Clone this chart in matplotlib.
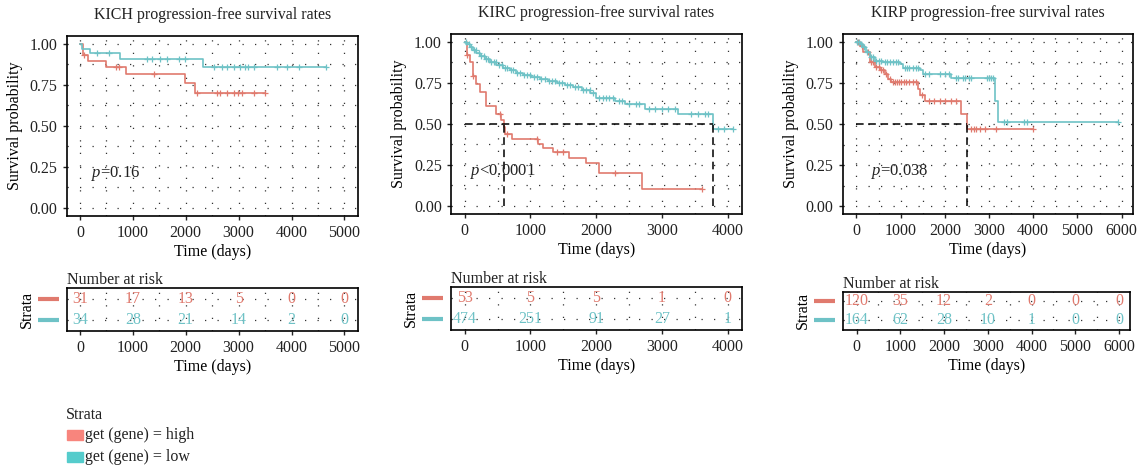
import numpy as np
import matplotlib
matplotlib.use("Agg")
import matplotlib.pyplot as plt
from matplotlib.patches import Rectangle

plt.rcParams.update({
    "font.family": ["Liberation Serif", "DejaVu Serif"],
    "font.size": 11.5,
    "mathtext.fontset": "custom",
    "mathtext.rm": "Liberation Serif",
    "mathtext.it": "Liberation Serif:italic",
    "axes.linewidth": 1.2,
    "xtick.major.size": 3,
    "ytick.major.size": 3,
    "xtick.major.width": 1.0,
    "ytick.major.width": 1.0,
    "text.color": "#222222",
    "xtick.color": "#222222",
    "ytick.color": "#222222",
})

RED = "#E07A6E"
CYAN = "#6EC2C6"
RED_PATCH = "#F8857D"
CYAN_PATCH = "#55CCCC"
W, H = 1143, 468

# ---------------- KICH ----------------
kich_red_t = [0, 57, 151, 484, 880, 1981, 2170]
kich_red_s = [1.00, 0.935, 0.896, 0.861, 0.815, 0.758, 0.697]
kich_red_end = 3503
kich_red_cens = [75, 673, 736, 1396, 2214, 2591, 2654, 2780, 2906, 2981, 3063, 3283, 3503]
kich_cyan_t = [0, 44, 182, 755, 2321]
kich_cyan_s = [1.00, 0.969, 0.945, 0.908, 0.861]
kich_cyan_end = 4655
kich_cyan_cens = [327, 547, 1270, 1365, 1510, 1648, 1868, 1994, 2529, 2686, 2780,
                  2906, 3019, 3126, 3170, 3283, 3724, 3912, 4132, 4655]
kich_risk_x = [0, 1000, 2000, 3000, 4000, 5000]
kich_risk_red = [31, 17, 13, 5, 0, 0]
kich_risk_cyan = [34, 28, 21, 14, 2, 0]

# ---------------- KIRC ----------------
kirc_red_t = [0, 36, 76, 127, 178, 228, 330, 482, 558, 594, 609, 711, 1117, 1193,
              1345, 1589, 1838, 2041, 2700]
kirc_red_s = [1.00, 0.92, 0.875, 0.794, 0.743, 0.692, 0.606, 0.56, 0.524, 0.478,
              0.437, 0.406, 0.38, 0.355, 0.33, 0.294, 0.26, 0.20, 0.10]
kirc_red_end = 3604
kirc_red_cens = [36, 127, 533, 640, 1092, 1396, 1500, 2285, 3604]
kirc_cyan_t = [0, 25, 76, 127, 178, 228, 305, 381, 482, 584, 685, 787, 888, 1015,
               1142, 1269, 1396, 1523, 1650, 1777, 1904, 2000, 2284, 2436, 2741, 3249, 3772]
kirc_cyan_s = [1.00, 0.99, 0.97, 0.95, 0.93, 0.915, 0.895, 0.875, 0.858, 0.843,
               0.828, 0.812, 0.798, 0.785, 0.772, 0.76, 0.75, 0.738, 0.722, 0.705,
               0.69, 0.655, 0.64, 0.62, 0.592, 0.562, 0.466]
kirc_cyan_end = 4076
kirc_cyan_cens = [20, 60, 100, 140, 170, 210, 250, 290, 330, 360, 400, 440, 470, 520,
                  560, 610, 650, 700, 740, 800, 840, 900, 950, 1000, 1060, 1100, 1160,
                  1220, 1280, 1330, 1380, 1440, 1480, 1550, 1600, 1680, 1720, 1800,
                  1850, 1900, 1950, 2050, 2100, 2150, 2200, 2250, 2350, 2400, 2500,
                  2600, 2650, 2800, 2900, 3000, 3100, 3200, 3450, 3550, 3650, 3700,
                  3850, 3950, 4076]
kirc_risk_x = [0, 1000, 2000, 3000, 4000]
kirc_risk_red = [53, 5, 5, 1, 0]
kirc_risk_cyan = [474, 251, 91, 27, 1]
kirc_medians = [594, 3772]

# ---------------- KIRP ----------------
kirp_red_t = [0, 75, 151, 302, 415, 528, 641, 717, 792, 1396, 1449, 1547, 2377, 2506]
kirp_red_s = [1.00, 0.978, 0.937, 0.876, 0.846, 0.826, 0.805, 0.775, 0.755, 0.714,
              0.677, 0.643, 0.562, 0.471]
kirp_red_end = 3985
kirp_red_cens = [30, 120, 260, 330, 380, 450, 500, 560, 600, 680, 760, 820, 870, 920,
                 970, 1020, 1080, 1130, 1200, 1270, 1340, 1480, 1650, 1750, 1900,
                 2000, 2150, 2250, 2600, 2650, 2700, 2800, 2900, 3150, 3985]
kirp_cyan_t = [0, 75, 151, 226, 302, 415, 604, 981, 1057, 1434, 1509, 2151, 3132, 3208]
kirp_cyan_s = [1.00, 0.988, 0.968, 0.937, 0.907, 0.886, 0.876, 0.866, 0.842, 0.826,
               0.805, 0.779, 0.643, 0.511]
kirp_cyan_end = 5925
kirp_cyan_cens = [20, 60, 110, 180, 250, 340, 380, 450, 500, 550, 640, 700, 760, 820,
                  900, 950, 1100, 1150, 1200, 1280, 1350, 1400, 1550, 1650, 1900,
                  2000, 2100, 2250, 2300, 2400, 2450, 2550, 2600, 2950, 3000, 3050,
                  3100, 3330, 3400, 3800, 3850, 5925]
kirp_risk_x = [0, 1000, 2000, 3000, 4000, 5000, 6000]
kirp_risk_red = [120, 35, 12, 2, 0, 0, 0]
kirp_risk_cyan = [164, 62, 28, 10, 1, 0, 0]
kirp_medians = [2506]

panels = [
    dict(title="KICH progression-free survival rates",
         red=(kich_red_t, kich_red_s, kich_red_end, kich_red_cens),
         cyan=(kich_cyan_t, kich_cyan_s, kich_cyan_end, kich_cyan_cens),
         risk=(kich_risk_x, kich_risk_red, kich_risk_cyan), medians=[],
         pval="=0.16", pval_x=200, xlim=(-250, 5250),
         main=(66.7, 35.7, 357.7, 215.7), tab=(66.7, 288.3, 357.7, 331.0)),
    dict(title="KIRC progression-free survival rates",
         red=(kirc_red_t, kirc_red_s, kirc_red_end, kirc_red_cens),
         cyan=(kirc_cyan_t, kirc_cyan_s, kirc_cyan_end, kirc_cyan_cens),
         risk=(kirc_risk_x, kirc_risk_red, kirc_risk_cyan), medians=kirc_medians,
         pval="<0.0001", pval_x=76, xlim=(-210, 4215),
         main=(451.0, 33.7, 741.7, 214.0), tab=(451.0, 287.3, 741.7, 330.0)),
    dict(title="KIRP progression-free survival rates",
         red=(kirp_red_t, kirp_red_s, kirp_red_end, kirp_red_cens),
         cyan=(kirp_cyan_t, kirp_cyan_s, kirp_cyan_end, kirp_cyan_cens),
         risk=(kirp_risk_x, kirp_risk_red, kirp_risk_cyan), medians=kirp_medians,
         pval="=0.038", pval_x=340, xlim=(-310, 6250),
         main=(842.7, 33.7, 1132.7, 214.3), tab=(843.0, 291.7, 1130.0, 330.0)),
]

GRID = dict(color="#333333", linestyle=(0, (1, 9)), linewidth=0.9)


def add_axes_px(fig, box):
    x0, y0, x1, y1 = box
    return fig.add_axes([x0 / W, 1 - y1 / H, (x1 - x0) / W, (y1 - y0) / H])


def surv_at(t, times, surv):
    idx = np.searchsorted(times, t, side="right") - 1
    return np.asarray(surv)[idx]


def draw_curve(ax, data, color):
    times, surv, end, cens = data
    tt = list(times) + [end]
    ss = list(surv) + [surv[-1]]
    ax.step(tt, ss, where="post", color=color, lw=1.2, zorder=3)
    ax.plot(cens, surv_at(cens, times, surv), ls="none", marker="+",
            ms=5, mew=0.9, color=color, zorder=3)


fig = plt.figure(figsize=(W / 100, H / 100), dpi=100)

for p in panels:
    ax = add_axes_px(fig, p["main"])
    xmax = p["risk"][0][-1]
    minor_x = np.arange(0, xmax + 1, 500)
    for gx in minor_x:
        ax.axvline(gx, zorder=0, **GRID)
    for gy in np.arange(0, 1.0001, 0.125):
        ax.axhline(gy, zorder=0, **GRID)

    draw_curve(ax, p["red"], RED)
    draw_curve(ax, p["cyan"], CYAN)

    for m in p["medians"]:
        ax.plot([m, m], [0, 0.5], color="black", ls=(0, (5, 3)), lw=1.1, zorder=4)
    if p["medians"]:
        ax.plot([0, max(p["medians"])], [0.5, 0.5], color="black", ls=(0, (5, 3)),
                lw=1.1, zorder=4)

    ax.text(p["pval_x"], 0.21, "$p$" + p["pval"], fontsize=12, va="center", ha="left",
            zorder=5)
    ax.set_xlim(*p["xlim"])
    ax.set_ylim(-0.05, 1.05)
    ax.set_xticks(p["risk"][0])
    ax.set_yticks([0, 0.25, 0.5, 0.75, 1.0])
    ax.set_yticklabels(["0.00", "0.25", "0.50", "0.75", "1.00"])
    ax.set_title(p["title"], fontsize=11.5, pad=12)
    ax.set_xlabel("Time (days)", fontsize=11.5, labelpad=2)
    ax.set_ylabel("Survival probability", fontsize=11.5, labelpad=5)

    # risk table
    rt = add_axes_px(fig, p["tab"])
    rx, rred, rcyan = p["risk"]
    for gx in minor_x:
        rt.axvline(gx, zorder=0, **GRID)
    for gy in [1, 2]:
        rt.axhline(gy, zorder=0, **GRID)
    for x, n in zip(rx, rred):
        rt.text(x, 2, str(n), color=RED, ha="center", va="center", fontsize=11.5, zorder=2)
    for x, n in zip(rx, rcyan):
        rt.text(x, 1, str(n), color=CYAN, ha="center", va="center", fontsize=11.5, zorder=2)
    rt.set_xlim(*p["xlim"])
    rt.set_ylim(0.5, 2.5)
    rt.set_xticks(rx)
    rt.set_yticks([])
    rt.set_xlabel("Time (days)", fontsize=11.5, labelpad=2)
    rt.set_ylabel("Strata", fontsize=11.5, labelpad=23)
    rt.set_title("Number at risk", fontsize=11.5, loc="left", pad=3)
    # strata line keys on the left of the table
    for yv, col in [(2, RED), (1, CYAN)]:
        rt.plot([-0.10, -0.028], [(yv - 0.5) / 2.0] * 2, transform=rt.transAxes,
                color=col, lw=3, clip_on=False, solid_capstyle="butt")

# bottom legend
fig.text(66 / W, 1 - 415 / H, "Strata", fontsize=11.5, va="center", ha="left")
for yc, col, lab in [(435, RED_PATCH, "get (gene) = high"), (457, CYAN_PATCH, "get (gene) = low")]:
    fig.patches.append(Rectangle((67 / W, 1 - (yc + 5) / H), 16 / W, 10 / H,
                                 transform=fig.transFigure, color=col))
    fig.text(85 / W, 1 - yc / H, lab, fontsize=11.5, va="center", ha="left")

fig.savefig("out.png", dpi=100)
